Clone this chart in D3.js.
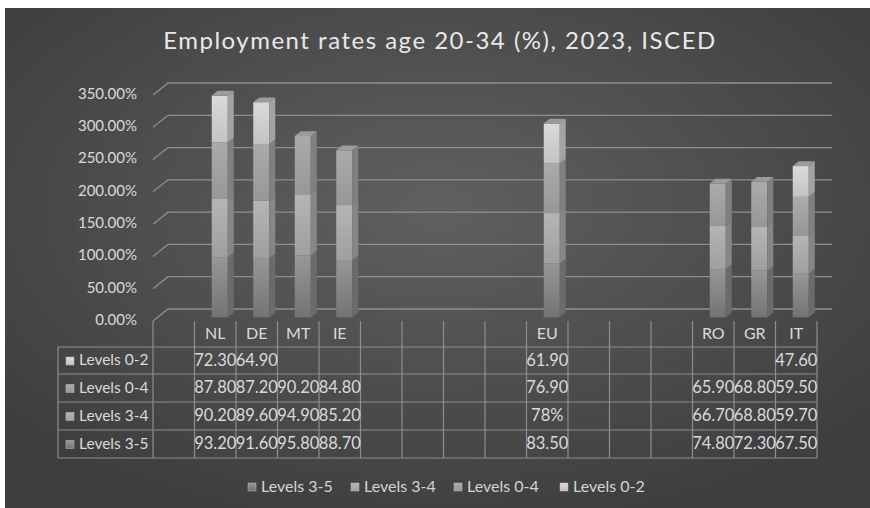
<!DOCTYPE html>
<html><head><meta charset="utf-8">
<script src="https://cdn.jsdelivr.net/npm/d3@7"></script>
<style>html,body{margin:0;padding:0;background:#fff}svg{display:block}</style>
</head><body><svg id="chart" width="870" height="508"></svg>
<script>
// Categories along the floor (empty slots keep the original spacing)
const categories = ["", "NL", "DE", "MT", "IE", "", "", "", "", "EU", "", "", "", "RO", "GR", "IT"];
// Employment rates per ISCED level group
const levels35 = [null, 93.2, 91.6, 95.8, 88.7, null, null, null, null, 83.5, null, null, null, 74.8, 72.3, 67.5];
const levels34 = [null, 90.2, 89.6, 94.9, 85.2, null, null, null, null, 78.0, null, null, null, 66.7, 68.8, 59.7];
const levels04 = [null, 87.8, 87.2, 90.2, 84.8, null, null, null, null, 76.9, null, null, null, 65.9, 68.8, 59.5];
const levels02 = [null, 72.3, 64.9, null, null, null, null, null, null, 61.9, null, null, null, null, null, 47.6];
const seriesNames = ["Levels 3-5", "Levels 3-4", "Levels 0-4", "Levels 0-2"];
const yTicks = [0, 50, 100, 150, 200, 250, 300, 350];
const cellOverrides = {"Levels 3-4|EU": "78%"};

const seriesValues = {"Levels 3-5": levels35, "Levels 3-4": levels34, "Levels 0-4": levels04, "Levels 0-2": levels02};
const rows = categories.map((c, i) => {
  const r = {idx: i, cat: c};
  seriesNames.forEach(k => r[k] = seriesValues[k][i] || 0);
  return r;
});
const stacked = d3.stack().keys(seriesNames)(rows);

const svg = d3.select("#chart");
const font = "Lato, 'Open Sans', sans-serif";
const W = 870, H = 508;

// Background panel
const defs = svg.append("defs");
const bg = defs.append("radialGradient").attr("id", "bg")
  .attr("cx", "50%").attr("cy", "40%").attr("r", "65%");
bg.append("stop").attr("offset", "0%").attr("stop-color", "#606061");
bg.append("stop").attr("offset", "100%").attr("stop-color", "#3e3e3f");
svg.append("rect").attr("x", 5).attr("y", 8).attr("width", W - 5).attr("height", H - 8).attr("fill", "url(#bg)");

// Segment shading
const shades = {
  "Levels 3-5": ["#979797", "#737373", "#6b6b6b"],
  "Levels 3-4": ["#b5b5b5", "#9f9f9f", "#868686"],
  "Levels 0-4": ["#ababab", "#979797", "#808080"],
  "Levels 0-2": ["#dadada", "#c3c3c3", "#a3a3a3"]
};
seriesNames.forEach((k, i) => {
  const g = defs.append("linearGradient").attr("id", "g" + i).attr("x1", 0).attr("y1", 0).attr("x2", 0).attr("y2", 1);
  g.append("stop").attr("offset", "0%").attr("stop-color", shades[k][0]);
  g.append("stop").attr("offset", "100%").attr("stop-color", shades[k][1]);
});

// Scales on the front plane; depth shifts points up and to the right
const x = d3.scaleBand().domain(d3.range(categories.length)).range([153, 817]).padding(0);
const y = d3.scaleLinear().domain([0, 350]).range([321, 95]);
const DX = 15, DY = -12;

// Title
svg.append("text").attr("x", 440).attr("y", 43).attr("text-anchor", "middle")
  .attr("dominant-baseline", "middle").attr("font-family", font).attr("font-size", 24)
  .attr("letter-spacing", 1.5).attr("fill", "#e8e8e8")
  .text("Employment rates age 20-34 (%), 2023, ISCED");

// Gridlines on side wall and back wall
const gridG = svg.append("g");
yTicks.forEach(t => {
  const yf = y(t);
  gridG.append("path")
    .attr("d", `M${x.range()[0]},${yf}L${x.range()[0] + DX},${yf + DY}L${x.range()[1] + DX},${yf + DY}`)
    .attr("fill", "none").attr("stroke", "#8e8e8e").attr("stroke-width", 1.3);
});

// Axis labels
const fmtPct = d3.format(".2f");
svg.append("g").selectAll("text").data(yTicks).join("text")
  .attr("x", 137).attr("y", d => y(d)).attr("text-anchor", "end").attr("dominant-baseline", "middle")
  .attr("font-family", font).attr("font-size", 15).attr("fill", "#dadada")
  .text(d => fmtPct(d) + "%");

// Bars
const d0 = 0.3, d1 = 0.7, barW = 16;
const sdx = DX * (d1 - d0), sdy = DY * (d1 - d0);
const barG = svg.append("g");
rows.forEach((r, i) => {
  const total = seriesNames.reduce((s, k) => s + r[k], 0);
  if (!total) return;
  const xl = x(i) + x.bandwidth() / 2 - barW / 2 + DX * d0;
  const xr = xl + barW;
  let topIdx = -1;
  stacked.forEach((s, si) => { if (s[i][1] > s[i][0]) topIdx = si; });
  stacked.forEach((s, si) => {
    const [v0, v1] = s[i];
    if (v1 <= v0) return;
    const yb = y(v0) + DY * d0, yt = y(v1) + DY * d0;
    const k = s.key;
    barG.append("rect").attr("x", xl).attr("y", yt).attr("width", barW).attr("height", yb - yt)
      .attr("fill", `url(#g${si})`);
    barG.append("path")
      .attr("d", `M${xr},${yt}L${xr + sdx},${yt + sdy}L${xr + sdx},${yb + sdy}L${xr},${yb}Z`)
      .attr("fill", shades[k][2]);
    if (si === topIdx) {
      barG.append("path")
        .attr("d", `M${xl},${yt}L${xl + sdx},${yt + sdy}L${xr + sdx},${yt + sdy}L${xr},${yt}Z`)
        .attr("fill", "#9c9c9c");
    }
  });
});

// Data table
const tbl = svg.append("g");
const lineC = "#8e8e8e";
const headTop = 321, headBot = 347;
const rowH = [347, 374, 402, 430, 458];
const tableRows = seriesNames.slice().reverse();
const labelLeft = 58;
// vertical lines
x.domain().concat([categories.length]).forEach(i => {
  const xx = i < categories.length ? x(i) : x.range()[1];
  tbl.append("line").attr("x1", xx).attr("x2", xx).attr("y1", headTop).attr("y2", rowH[4])
    .attr("stroke", lineC).attr("stroke-width", 1.2);
});
tbl.append("line").attr("x1", labelLeft).attr("x2", labelLeft).attr("y1", rowH[0]).attr("y2", rowH[4])
  .attr("stroke", lineC).attr("stroke-width", 1.2);
rowH.forEach(yy => {
  tbl.append("line").attr("x1", labelLeft).attr("x2", x.range()[1]).attr("y1", yy).attr("y2", yy)
    .attr("stroke", lineC).attr("stroke-width", 1.2);
});
// header
categories.forEach((c, i) => {
  tbl.append("text").attr("x", x(i) + x.bandwidth() / 2).attr("y", (headTop + headBot) / 2 + 1)
    .attr("text-anchor", "middle").attr("dominant-baseline", "middle")
    .attr("font-family", font).attr("font-size", 16).attr("fill", "#dadada").text(c);
});
// rows
const fmtVal = d3.format(".2f");
tableRows.forEach((k, ri) => {
  const cy = (rowH[ri] + rowH[ri + 1]) / 2 + 1;
  const si = seriesNames.indexOf(k);
  tbl.append("rect").attr("x", 66).attr("y", cy - 4.5).attr("width", 8).attr("height", 8)
    .attr("fill", `url(#g${si})`).attr("stroke", "#bdbdbd").attr("stroke-width", 0.5);
  tbl.append("text").attr("x", 79).attr("y", cy).attr("dominant-baseline", "middle")
    .attr("font-family", font).attr("font-size", 15.5).attr("fill", "#dadada").text(k);
  seriesValues[k].forEach((v, i) => {
    if (v == null) return;
    const txt = cellOverrides[k + "|" + categories[i]] || fmtVal(v);
    tbl.append("text").attr("x", x(i) + x.bandwidth() / 2).attr("y", cy)
      .attr("text-anchor", "middle").attr("dominant-baseline", "middle")
      .attr("font-family", font).attr("font-size", 16.5).attr("fill", "#dadada").text(txt);
  });
});

// Legend
const legendX = [248, 351, 454, 560];
const lg = svg.append("g");
seriesNames.forEach((k, i) => {
  lg.append("rect").attr("x", legendX[i]).attr("y", 483).attr("width", 8).attr("height", 8)
    .attr("fill", `url(#g${i})`).attr("stroke", "#bdbdbd").attr("stroke-width", 0.5);
  lg.append("text").attr("x", legendX[i] + 13).attr("y", 488).attr("dominant-baseline", "middle")
    .attr("font-family", font).attr("font-size", 16).attr("fill", "#d4d4d4").text(k);
});
</script></body></html>
